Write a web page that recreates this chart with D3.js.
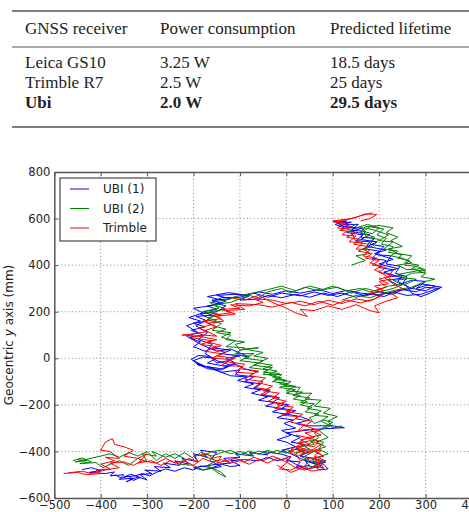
<!DOCTYPE html>
<html>
<head>
<meta charset="utf-8">
<script src="https://cdn.jsdelivr.net/npm/d3@7"></script>
<style>
body { margin: 0; background: #fff; }
svg { display: block; }
</style>
</head>
<body>
<svg width="469" height="512"></svg>
<script>
// table content
const tableHead = ["GNSS receiver", "Power consumption", "Predicted lifetime"]
const tableRows = [
	["Leica GS10", "3.25 W", "18.5 days"],
	["Trimble R7", "2.5 W", "25 days"],
	["Ubi", "2.0 W", "29.5 days"]
]
const boldRow = 2

// chart axes
const xTicks = [-500, -400, -300, -200, -100, 0, 100, 200, 300, 400]
const yTicks = [-600, -400, -200, 0, 200, 400, 600, 800]

// traces, [x mm, y mm]; each receiver drawn as several passes
const ubi1 = [[-440,-478],[-420,-470],[-400,-482],[-425,-490],[-390,-495],[-370,-488],[-380,-505],[-350,-500],[-360,-520],[-330,-515],[-345,-530],[-320,-510],[-300,-522],[-315,-500],[-290,-495],[-305,-480],[-270,-485],[-285,-465],[-250,-470],[-265,-450],[-230,-460],[-240,-440],[-210,-455],[-225,-430],[-190,-445],[-200,-410],[-170,-425],[-185,-395],[-150,-405],[-165,-440],[-140,-465],[-180,-480],[-200,-470],[-150,-455],[-120,-450],[-135,-430],[-100,-425],[-110,-410],[-70,-420],[-80,-405],[-40,-415],[-50,-400],[-10,-412],[10,-425],[0,-440],[30,-445],[20,-470],[50,-460],[40,-440],[80,-455],[90,-475],[70,-480],[60,-460],[85,-445],[60,-430],[30,-420],[50,-400],[20,-390],[40,-370],[10,-360],[30,-340],[0,-320],[60,-305],[125,-298],[100,-290],[40,-290],[20,-280],[50,-265],[30,-250],[0,-240],[20,-225],[-10,-215],[5,-200],[-30,-190],[-15,-170],[-50,-160],[-35,-140],[-70,-130],[-55,-110],[-90,-100],[-70,-80],[-110,-70],[-100,-50],[-140,-60],[-160,-40],[-190,-30],[-200,-10],[-180,5],[-150,0],[-170,-20],[-130,-35],[-110,-20],[-130,0],[-100,10],[-140,20],[-120,35],[-160,45],[-175,30],[-200,50],[-185,70],[-210,90],[-180,100],[-205,120],[-175,135],[-200,150],[-170,160],[-195,180],[-160,185],[-180,200],[-150,210],[-170,225],[-140,235],[-160,250],[-120,255],[-150,270],[-110,275],[-80,268],[-100,250],[-60,255],[-40,270],[-10,260],[20,275],[50,262],[80,280],[110,265],[140,285],[170,268],[200,285],[230,275],[250,295],[280,285],[300,305],[330,300],[310,280],[290,265],[270,280],[260,310],[240,330],[250,355],[220,350],[230,380],[200,390],[215,420],[185,430],[200,460],[170,470],[180,500],[150,505],[165,530],[130,540],[150,560],[115,570],[140,585],[110,580],[125,565]]
const ubi1b = [[-370,-500],[-355,-515],[-340,-505],[-330,-525],[-315,-512],[-335,-498],[-350,-510],[-325,-505],[-310,-495],[-295,-505],[-280,-490],[-260,-475],[-240,-485],[-220,-470],[-200,-480],[-185,-462],[-160,-470],[-140,-455],[-120,-465],[-100,-460],[-120,-440],[-90,-435],[-60,-440],[-40,-425],[-20,-440],[0,-430],[20,-455],[40,-475],[60,-470],[75,-460],[55,-450],[30,-430],[10,-410],[-10,-395],[20,-380],[0,-360],[-20,-350],[10,-330],[-10,-310],[20,-300],[-5,-280],[15,-265],[-20,-255],[0,-240],[-30,-230],[-10,-215],[-45,-205],[-25,-190],[-60,-180],[-40,-165],[-75,-150],[-55,-135],[-90,-125],[-70,-110],[-105,-95],[-85,-80],[-120,-75],[-195,-20],[-170,-45],[-140,-50],[-120,-30],[-150,-10],[-175,20],[-160,60],[-190,80],[-170,110],[-195,140],[-165,170],[-185,190],[-150,200],[-130,225],[-160,240],[-140,260],[-100,262],[-70,280],[-40,262],[-10,280],[30,268],[60,285],[90,270],[120,280],[150,262],[180,278],[210,265],[240,290],[270,300],[300,290],[320,310],[290,320],[270,300],[250,320],[260,350],[235,365],[245,395],[215,405],[225,440],[195,445],[210,480],[180,490],[190,515],[160,520],[170,545],[140,550],[155,575],[120,575]]
const ubi1c = [[-60,-60],[-90,-45],[-110,-25],[-140,-45],[-175,-35],[-205,-5],[-190,12],[-165,8],[-150,-20],[-125,-10],[-105,15],[-80,5],[-120,40],[-150,30],[-185,60],[-215,95],[-190,110],[-215,140],[-185,160],[-210,175],[-180,195],[-200,215],[-165,225],[-130,245],[-170,265],[-125,282],[-90,272],[-60,285],[-30,275],[0,290],[30,280],[70,295],[100,278],[130,292],[160,280],[200,272],[230,285],[260,270],[290,275],[320,295],[335,305],[305,315],[280,300],[300,330],[270,335],[240,315],[220,335],[250,345],[210,370],[240,385],[200,405],[230,425],[190,450],[215,465],[175,480],[195,500],[160,510],[180,530],[140,545],[165,560],[125,560],[105,575],[130,590],[100,585]]

const ubi2 = [[-460,-440],[-440,-428],[-420,-445],[-445,-452],[-410,-448],[-395,-470],[-380,-455],[-360,-440],[-340,-460],[-320,-430],[-300,-445],[-310,-410],[-280,-420],[-290,-400],[-260,-425],[-240,-410],[-220,-430],[-230,-455],[-200,-460],[-180,-480],[-160,-470],[-140,-490],[-130,-510],[-145,-495],[-170,-460],[-150,-440],[-180,-420],[-160,-400],[-140,-395],[-120,-410],[-100,-400],[-80,-415],[-60,-398],[-40,-410],[-20,-395],[0,-408],[20,-390],[40,-405],[30,-380],[60,-370],[50,-350],[80,-360],[70,-390],[90,-410],[60,-430],[80,-450],[50,-440],[40,-420],[60,-400],[40,-380],[70,-340],[60,-320],[100,-275],[80,-265],[60,-280],[50,-255],[70,-240],[40,-230],[55,-210],[30,-200],[45,-185],[15,-175],[30,-160],[0,-150],[20,-135],[-15,-125],[5,-110],[-30,-100],[-10,-85],[-40,-70],[-20,-55],[-50,-45],[-30,-30],[-60,-20],[-40,0],[-70,10],[-50,25],[-90,40],[-60,45],[-100,35],[-110,60],[-90,70],[-130,80],[-120,100],[-150,110],[-130,125],[-160,140],[-150,160],[-170,175],[-140,185],[-165,200],[-130,210],[-155,230],[-120,240],[-100,255],[-80,270],[-60,260],[-40,285],[-10,300],[10,280],[40,305],[70,290],[100,310],[130,290],[160,300],[180,285],[200,295],[220,310],[260,320],[280,340],[250,345],[270,365],[300,370],[290,385],[260,380],[240,400],[270,410],[250,430],[225,440],[240,460],[210,470],[230,500],[200,505],[220,530],[190,550],[170,560],[160,540],[190,520],[175,490],[150,500],[135,560],[150,575]]
const ubi2b = [[-450,-435],[-430,-440],[-455,-445],[-400,-420],[-380,-410],[-360,-425],[-340,-405],[-320,-420],[-300,-400],[-280,-440],[-260,-410],[-240,-430],[-220,-405],[-200,-430],[-185,-405],[-160,-420],[-140,-405],[-120,-395],[-100,-415],[-80,-398],[-60,-412],[-40,-395],[-20,-410],[0,-392],[20,-405],[40,-392],[30,-420],[50,-440],[40,-460],[70,-470],[55,-430],[80,-420],[60,-395],[85,-380],[65,-360],[90,-340],[70,-310],[95,-290],[75,-270],[90,-250],[60,-245],[75,-225],[45,-215],[60,-195],[30,-190],[50,-170],[15,-160],[35,-145],[0,-140],[20,-120],[-15,-110],[0,-95],[-30,-80],[-15,-65],[-50,-60],[-30,-40],[-70,-30],[-50,-10],[-90,0],[-70,20],[-110,20],[-90,45],[-130,50],[-110,75],[-140,90],[-120,110],[-160,120],[-140,150],[-170,165],[-150,190],[-180,200],[-145,215],[-165,240],[-130,250],[-110,265],[-70,280],[-40,295],[-10,310],[20,290],[50,310],[80,295],[110,305],[140,280],[170,300],[200,285],[230,300],[250,315],[230,335],[260,340],[240,360],[280,375],[300,380],[280,395],[255,400],[265,420],[240,430],[250,445],[220,455],[230,480],[205,490],[215,515],[195,530],[210,555],[180,565],[165,545],[185,535],[200,560],[175,575],[150,560]]
const ubi2c = [[120,250],[150,270],[180,260],[210,280],[240,295],[270,305],[300,330],[320,340],[290,350],[300,365],[270,385],[285,400],[255,410],[270,440],[240,450],[220,470],[250,480],[225,505],[240,520],[215,540],[230,560],[200,570],[170,565],[160,545],[175,520],[200,510],[185,480],[165,470],[180,450],[150,440],[170,420],[140,400]]
const ubi2d = [[120,-290],[100,-300],[90,-270],[110,-250],[80,-235],[95,-215],[60,-205],[75,-180],[40,-175],[55,-150],[20,-150],[30,-125],[-5,-120],[10,-100],[-25,-90],[-10,-70],[-50,-70],[-40,-50],[-80,-40],[-60,-20],[-100,-10],[-80,10],[-120,15]]

const trimble = [[-480,-495],[-450,-490],[-430,-500],[-400,-495],[-410,-480],[-380,-475],[-400,-455],[-370,-440],[-390,-425],[-360,-430],[-380,-400],[-400,-395],[-390,-360],[-375,-345],[-370,-370],[-350,-380],[-330,-395],[-350,-420],[-320,-430],[-300,-410],[-320,-450],[-290,-440],[-270,-460],[-250,-440],[-230,-455],[-210,-430],[-190,-445],[-200,-420],[-170,-410],[-160,-430],[-140,-420],[-150,-450],[-130,-440],[-110,-430],[-90,-445],[-70,-425],[-50,-440],[-30,-420],[-10,-435],[10,-420],[0,-450],[-15,-475],[10,-480],[30,-460],[50,-475],[70,-455],[60,-430],[80,-420],[60,-400],[40,-410],[20,-380],[50,-370],[30,-350],[60,-340],[40,-320],[70,-310],[40,-290],[55,-270],[20,-260],[35,-240],[0,-230],[15,-210],[-20,-200],[0,-185],[-30,-170],[-15,-150],[-50,-140],[-30,-120],[-60,-105],[-45,-85],[-80,-75],[-60,-55],[-100,-45],[-90,-25],[-130,-15],[-110,0],[-150,10],[-130,25],[-160,40],[-140,55],[-170,70],[-150,80],[-190,95],[-225,100],[-200,105],[-170,115],[-190,130],[-160,145],[-180,160],[-140,170],[-160,185],[-120,195],[-140,210],[-100,215],[-120,230],[-80,225],[-50,240],[-70,255],[-30,250],[0,235],[30,245],[60,230],[90,250],[120,235],[150,255],[180,245],[200,265],[180,280],[210,290],[190,310],[220,320],[200,340],[230,355],[200,370],[215,390],[185,400],[200,420],[170,430],[185,450],[155,460],[175,480],[145,490],[160,510],[130,520],[150,540],[115,550],[140,565],[105,585],[130,595],[150,605],[170,620],[195,618],[180,600],[160,590]]
const trimbleb = [[-470,-492],[-440,-485],[-420,-495],[-390,-480],[-360,-470],[-380,-450],[-350,-445],[-330,-460],[-310,-440],[-280,-450],[-260,-430],[-240,-450],[-220,-440],[-200,-460],[-180,-430],[-160,-445],[-140,-435],[-120,-450],[-100,-440],[-80,-455],[-60,-435],[-40,-450],[-20,-430],[0,-445],[20,-470],[40,-480],[60,-465],[80,-470],[70,-440],[50,-430],[30,-440],[20,-410],[40,-395],[10,-390],[30,-370],[60,-380],[70,-355],[45,-340],[75,-330],[50,-305],[25,-310],[40,-285],[10,-275],[25,-250],[-10,-245],[10,-225],[-25,-215],[-5,-195],[-40,-185],[-20,-165],[-55,-155],[-35,-135],[-70,-125],[-50,-100],[-90,-90],[-70,-65],[-110,-60],[-95,-35],[-140,-30],[-120,-5],[-160,0],[-140,20],[-175,30],[-150,50],[-185,60],[-160,75],[-210,90],[-180,100],[-150,95],[-175,120],[-150,135],[-170,150],[-135,160],[-150,180],[-110,190],[-130,205],[-90,210],[-110,235],[-60,230],[-30,220],[10,240],[40,225],[70,245],[100,228],[130,250],[160,238],[190,255],[210,275],[195,295],[215,305],[200,330],[225,340],[210,360],[190,380],[205,395],[180,410],[195,430],[165,440],[180,465],[150,470],[165,495],[135,500],[150,525],[120,530],[135,555],[110,560],[125,580],[100,590],[140,600],[160,612],[185,625]]
const trimblec = [[-120,260],[-90,250],[-60,270],[-30,240],[0,215],[20,195],[45,180],[30,210],[60,205],[90,225],[120,210],[150,230],[180,205],[200,195],[190,225],[215,245],[240,260],[225,280],[250,300],[230,320],[210,350]]
const trimbled = [[-20,-460],[10,-490],[35,-470],[55,-485],[80,-475],[65,-450],[85,-440],[60,-420],[75,-395],[45,-400],[25,-420],[5,-400],[30,-385],[55,-395],[75,-370],[50,-355],[25,-365],[45,-340],[20,-330]]

const series = [
	{name: "UBI (1)", color: "#0000ff", segs: [ubi1, ubi1b, ubi1c]},
	{name: "UBI (2)", color: "#008000", segs: [ubi2, ubi2b, ubi2c, ubi2d]},
	{name: "Trimble", color: "#ff0000", segs: [trimble, trimbleb, trimblec, trimbled]}
]

const svg = d3.select("svg")

// ---- table ----
const colX = [25, 160, 330]
const rules = [{y: 11, w: 1.6}, {y: 47, w: 1}, {y: 127, w: 1.6}]
svg.selectAll("line.rule").data(rules).enter().append("line")
	.attr("class", "rule")
	.attr("x1", 12).attr("x2", 469)
	.attr("y1", d => d.y).attr("y2", d => d.y)
	.attr("stroke", "#555").attr("stroke-width", d => d.w)

const tFont = "'Liberation Serif', 'Times New Roman', serif"
tableHead.forEach((t, i) => svg.append("text")
	.attr("x", colX[i]).attr("y", 34)
	.style("font-family", tFont).style("font-size", "17px").attr("fill", "#222")
	.text(t))
tableRows.forEach((row, r) => row.forEach((t, i) => svg.append("text")
	.attr("x", colX[i]).attr("y", 68 + r * 20)
	.style("font-family", tFont).style("font-size", "17px").attr("fill", "#222")
	.style("font-weight", r == boldRow ? "bold" : "normal")
	.text(t)))

// ---- chart ----
const x = d3.scaleLinear().domain([-500, 400]).range([54.3, 472])
const y = d3.scaleLinear().domain([-600, 800]).range([498, 172])
const font = "'DejaVu Sans', sans-serif"

// grid
svg.append("g").selectAll("line").data(xTicks.slice(1, -1)).enter().append("line")
	.attr("x1", d => x(d)).attr("x2", d => x(d)).attr("y1", y(800)).attr("y2", y(-600))
	.attr("stroke", "#888").attr("stroke-width", 1).attr("stroke-dasharray", "1,2.5")
svg.append("g").selectAll("line").data(yTicks.slice(1, -1)).enter().append("line")
	.attr("x1", x(-500)).attr("x2", x(400)).attr("y1", d => y(d)).attr("y2", d => y(d))
	.attr("stroke", "#888").attr("stroke-width", 1).attr("stroke-dasharray", "1,2.5")

// traces
const line = d3.line().x(d => x(d[0])).y(d => y(d[1]))
series.forEach(s => svg.append("g").selectAll("path").data(s.segs).enter().append("path")
	.attr("d", d => line(d))
	.attr("fill", "none").attr("stroke", s.color)
	.attr("stroke-width", 1).attr("stroke-linejoin", "round"))

// axes
const xAxis = svg.append("g").attr("transform", "translate(0," + y(-600) + ")")
	.call(d3.axisBottom(x).tickValues(xTicks).tickSizeInner(-4).tickSizeOuter(0).tickPadding(3).tickFormat(d3.format("")))
const xTop = svg.append("g").attr("transform", "translate(0," + y(800) + ")")
	.call(d3.axisTop(x).tickValues(xTicks).tickSizeInner(-4).tickSizeOuter(0).tickFormat(""))
const yAxis = svg.append("g").attr("transform", "translate(" + x(-500) + ",0)")
	.call(d3.axisLeft(y).tickValues(yTicks).tickSizeInner(-4).tickSizeOuter(0).tickPadding(4).tickFormat(d3.format("")))
;[xAxis, xTop, yAxis].forEach(g => {
	g.selectAll("path.domain").attr("stroke", "#555").attr("stroke-width", 1.5)
	g.selectAll(".tick line").attr("stroke", "#555")
	g.selectAll("text").style("font-family", font).style("font-size", "11.5px").attr("fill", "#222")
})
xAxis.selectAll("text").attr("dy", "0.71em")

// y label
svg.append("text")
	.attr("transform", "translate(13," + ((y(800) + y(-600)) / 2) + ") rotate(-90)")
	.attr("text-anchor", "middle")
	.style("font-family", font).style("font-size", "12px").attr("fill", "#222")
	.call(t => {
		t.append("tspan").text("Geocentric ")
		t.append("tspan").style("font-style", "italic").text("y")
		t.append("tspan").text(" axis (mm)")
	})

// legend
const lg = svg.append("g")
lg.append("rect").attr("x", 60).attr("y", 178).attr("width", 96).attr("height", 63)
	.attr("fill", "#fff").attr("stroke", "#222").attr("stroke-width", 1)
series.forEach((s, i) => {
	const yy = 189 + i * 19.5
	lg.append("line").attr("x1", 70).attr("x2", 89).attr("y1", yy).attr("y2", yy)
		.attr("stroke", s.color).attr("stroke-width", 1)
	lg.append("text").attr("x", 103).attr("y", yy).attr("dy", "0.35em")
		.style("font-family", font).style("font-size", "12px").attr("fill", "#222")
		.text(s.name)
})
</script>
</body>
</html>
